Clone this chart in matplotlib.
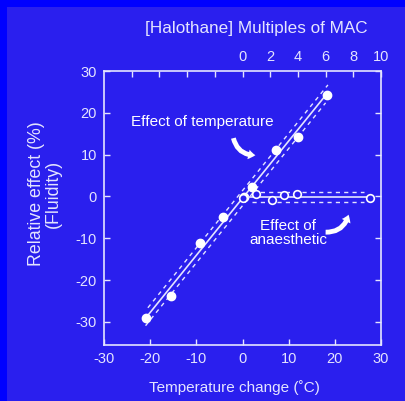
import numpy as np
import matplotlib.pyplot as plt
from matplotlib.patches import Rectangle, FancyArrowPatch

# couleurs
OUTER = "#0000FF"
INNER = "#2A1FEE"
FG = "#E4E4FF"

# effet de la temperature (points pleins)
temp_change = [-20.8, -15.5, -9.3, -4.3, 0.3, 2.0, 7.2, 12.1, 18.2]
temp_effect = [-29.1, -23.7, -11.2, -4.9, -0.2, 2.2, 11.0, 14.2, 24.3]

# effet de l'anesthesique (points creux), en multiples de MAC
mac = [0, 1.0, 2.1, 3.0, 3.9, 9.2]
mac_effect = [-0.3, 0.5, -0.9, 0.3, 0.6, -0.3]

temp_band = 1.8
mac_band = 1.2

bottom_ticks = [-30, -20, -10, 0, 10, 20, 30]
top_ticks = [-8, -6, -4, -2, 0, 2, 4, 6, 8, 10]
top_labels = ["", "", "", "", "0", "2", "4", "6", "8", "10"]
y_ticks = [-30, -20, -10, 0, 10, 20, 30]

plt.rcParams['font.family'] = ['Liberation Sans', 'DejaVu Sans']
plt.rcParams['axes.unicode_minus'] = False

fig = plt.figure(figsize=(4.05, 4.01), dpi=100, facecolor=OUTER)
fig.patches.append(Rectangle((7 / 405, 0), 1, 1 - 7 / 401, transform=fig.transFigure,
                             facecolor=INNER, edgecolor="none", zorder=-10))

ax = fig.add_axes([104 / 405, 1 - 345 / 401, 277 / 405, 274 / 401])
ax.set_facecolor("none")
ax.set_xlim(-30, 30)
ax.set_ylim(-35.5, 30)

# droite de regression temperature
p = np.polyfit(temp_change, temp_effect, 1)
xs = np.array([min(temp_change), max(temp_change)])
ax.plot(xs, np.polyval(p, xs), color=FG, lw=1.2)
xd = np.array([min(temp_change) + 0.3, max(temp_change) + 0.3])
ax.plot(xd, np.polyval(p, xd) + temp_band, color=FG, lw=1.0, ls=(0, (3, 3)))
ax.plot(xd - 0.5, np.polyval(p, xd - 0.5) - temp_band, color=FG, lw=1.0, ls=(0, (3, 3)))
ax.plot(temp_change, temp_effect, "o", color="white", ms=6, zorder=5)

ax.set_xticks(bottom_ticks)
ax.set_yticks(y_ticks)
ax.tick_params(direction="in", length=4, width=1, colors=FG, labelsize=10.5, pad=5,
               right=True, labelcolor=FG)
for s in ax.spines.values():
    s.set_color(FG)
    s.set_linewidth(1.2)

# axe du haut : halothane
ax2 = ax.twiny()
ax2.set_xlim(-10, 10)
ax2.set_xticks(top_ticks)
ax2.set_xticklabels(top_labels)
ax2.tick_params(direction="in", length=4, width=1, colors=FG, labelsize=10.5, pad=5)
for s in ax2.spines.values():
    s.set_visible(False)

m_mean = np.mean(mac_effect)
ax2.plot([min(mac), max(mac)], [m_mean, m_mean], color=FG, lw=1.2)
ax2.plot([0.7, 8.8], [m_mean + mac_band] * 2, color=FG, lw=1.0, ls=(0, (3, 3)))
ax2.plot([0.7, 8.8], [m_mean - mac_band] * 2, color=FG, lw=1.0, ls=(0, (3, 3)))
ax2.plot(mac, mac_effect, "o", mfc=INNER, mec="white", mew=1.2, ms=5.5, zorder=5)

# titres des axes
fig.text(256 / 405, 1 - 28 / 401, "[Halothane] Multiples of MAC", color=FG,
         fontsize=12.3, ha="center", va="center")
fig.text(234 / 405, 1 - 388 / 401, "Temperature change (˚C)", color=FG,
         fontsize=11, ha="center", va="center")
fig.text(45 / 405, 1 - 194 / 401, "Relative effect (%)\n(Fluidity)", color=FG,
         fontsize=12.8, ha="center", va="center", rotation=90, linespacing=0.95)

# annotations
ax.text(-8.6, 17.9, "Effect of temperature", color="white", fontsize=11,
        ha="center", va="center")
ax.text(9.9, -8.7, "Effect of\nanaesthetic", color="white", fontsize=11,
        ha="center", va="center", linespacing=0.95)
a1 = FancyArrowPatch((-2.1, 14.6), (3.4, 9.9), connectionstyle="arc3,rad=0.45",
                     arrowstyle="simple,head_width=7,head_length=5,tail_width=3.5",
                     color="white", lw=0)
a2 = FancyArrowPatch((17.4, -8.5), (23.1, -3.7), connectionstyle="arc3,rad=0.45",
                     arrowstyle="simple,head_width=7,head_length=5,tail_width=3.5",
                     color="white", lw=0)
ax.add_patch(a1)
ax.add_patch(a2)

fig.savefig("out.png", dpi=100, facecolor=fig.get_facecolor())
